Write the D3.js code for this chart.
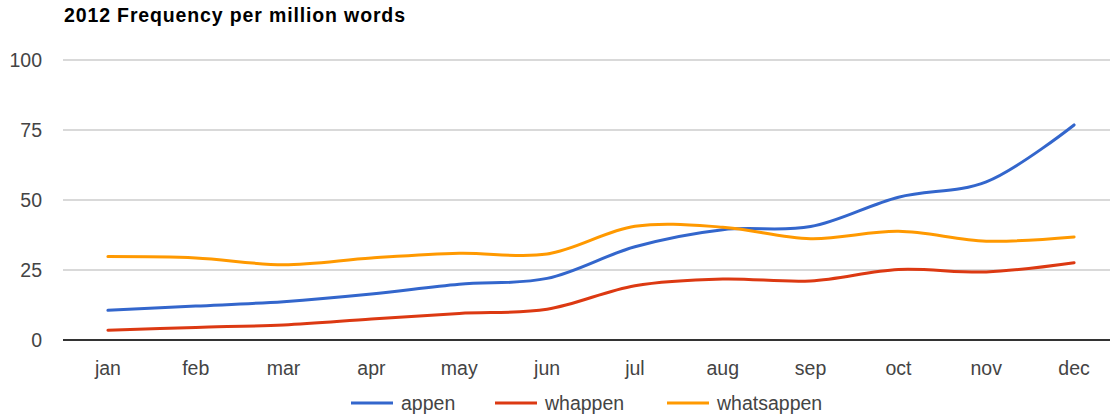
<!DOCTYPE html>
<html><head><meta charset="utf-8">
<script src="https://cdn.jsdelivr.net/npm/d3@7"></script>
<style>body{margin:0;background:#fff;}svg{display:block;font-family:"Liberation Sans",Arial,sans-serif;}</style>
</head><body><svg id="c" width="1110" height="416"></svg>
<script>
const months = ["jan","feb","mar","apr","may","jun","jul","aug","sep","oct","nov","dec"];
const appen = [10.6,12.1,13.7,16.4,19.9,22,33.3,39.4,40.5,51,56.5,76.8];
const whappen = [3.5,4.5,5.4,7.5,9.5,11,19.4,21.8,21.1,25.2,24.3,27.6];
const whatsappen = [29.8,29.3,26.9,29.3,31,30.7,40.6,40.3,36.2,38.8,35.3,36.8];
const yTicks = [0,25,50,75,100];
const seriesNames = ["appen","whappen","whatsappen"];
const colors = ["#3366cc","#dc3912","#ff9900"];
const series = [appen, whappen, whatsappen];

const svg = d3.select("#c");
const x = d3.scaleBand().domain(months).range([64,1118]);
const y = d3.scaleLinear().domain([0,100]).range([340,60]);
const cx = m => x(m) + x.bandwidth()/2;

svg.append("text").attr("x",64).attr("y",22).attr("font-weight","bold").attr("font-size",19.5).attr("fill","#000")
  .attr("textLength",341).attr("lengthAdjust","spacing")
  .text("2012 Frequency per million words");

const grid = svg.append("g");
yTicks.forEach(t => {
  grid.append("line").attr("x1",63).attr("x2",1110).attr("y1",y(t)).attr("y2",y(t))
    .attr("stroke", t===0 ? "#333" : "#ccc").attr("stroke-width", t===0 ? 2 : 1.5);
  svg.append("text").attr("x",42).attr("y",y(t)+7).attr("text-anchor","end").attr("font-size",19.5).attr("fill","#444").text(t);
});
months.forEach(m => {
  svg.append("text").attr("x",cx(m)).attr("y",375).attr("text-anchor","middle").attr("font-size",19.5).attr("fill","#444").text(m);
});

const line = d3.line().x((d,i)=>cx(months[i])).y(d=>y(d)).curve(d3.curveCatmullRom.alpha(0.5));
series.forEach((s,k) => {
  svg.append("path").attr("d",line(s)).attr("fill","none").attr("stroke",colors[k]).attr("stroke-width",3).attr("stroke-linecap","round");
});

const legX = [351,495,667];
seriesNames.forEach((n,k) => {
  svg.append("line").attr("x1",legX[k]).attr("x2",legX[k]+42).attr("y1",403).attr("y2",403).attr("stroke",colors[k]).attr("stroke-width",3);
  svg.append("text").attr("x",legX[k]+50).attr("y",410).attr("font-size",19.5).attr("fill","#444").text(n);
});
</script></body></html>
